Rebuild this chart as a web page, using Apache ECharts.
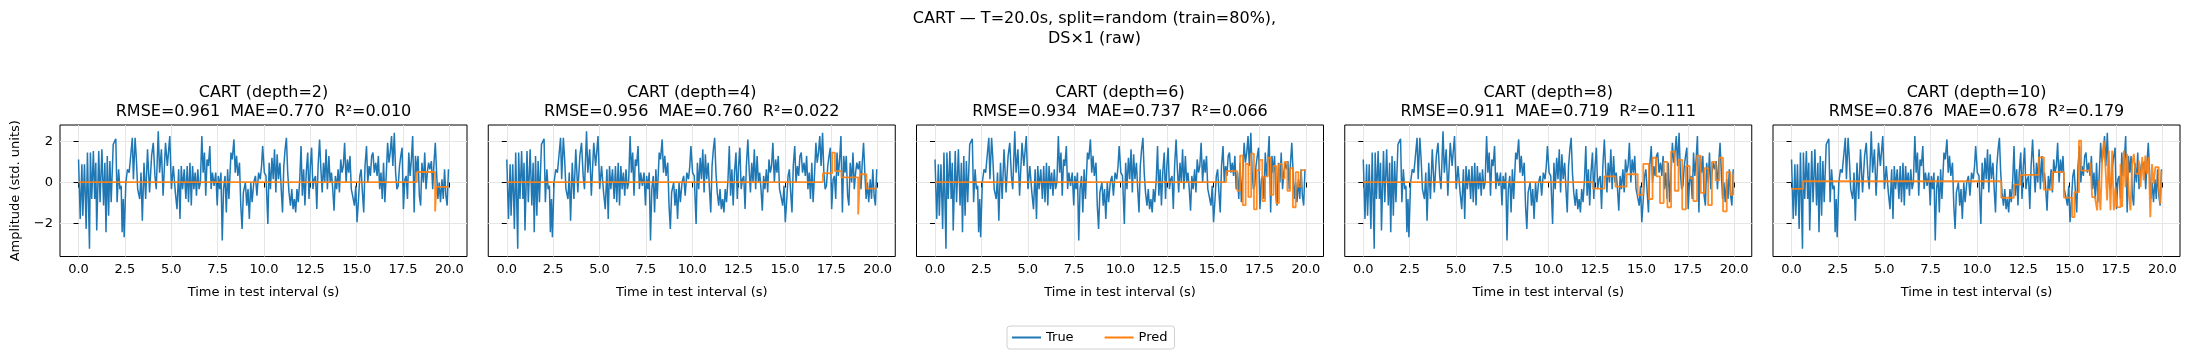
<!DOCTYPE html>
<html>
<head>
<meta charset="utf-8">
<script src="https://cdn.jsdelivr.net/npm/echarts@6/dist/echarts.min.js"></script>
<style>
    html, body { margin: 0; padding: 0; background: #fff; }
    #main { width: 2189px; height: 361px; }
</style>
</head>
<body>
<div id="main"></div>
<script>
var trueTime = [0.00, 0.09, 0.18, 0.23, 0.32, 0.41, 0.48, 0.59, 0.64, 0.71, 0.80, 0.87, 0.93, 0.98, 1.09, 1.16, 1.26, 1.35, 1.42, 1.48,
    1.55, 1.62, 1.69, 1.76, 1.87, 2.01, 2.08, 2.16, 2.23, 2.30, 2.35, 2.41, 2.46, 2.55, 2.64, 2.73, 2.82, 2.90, 2.96, 3.05,
    3.12, 3.19, 3.30, 3.37, 3.44, 3.53, 3.62, 3.72, 3.83, 3.94, 4.03, 4.12, 4.19, 4.30, 4.37, 4.47, 4.56, 4.69, 4.79, 4.92,
    5.01, 5.11, 5.22, 5.31, 5.40, 5.47, 5.54, 5.61, 5.70, 5.79, 5.86, 5.93, 6.01, 6.08, 6.15, 6.22, 6.29, 6.36, 6.43, 6.50,
    6.57, 6.65, 6.72, 6.79, 6.86, 6.93, 7.00, 7.08, 7.15, 7.22, 7.31, 7.40, 7.48, 7.54, 7.61, 7.68, 7.75, 7.82, 7.90, 7.97,
    8.04, 8.11, 8.22, 8.29, 8.38, 8.45, 8.52, 8.59, 8.68, 8.75, 8.82, 8.89, 9.00, 9.07, 9.14, 9.21, 9.29, 9.36, 9.45, 9.54,
    9.62, 9.71, 9.80, 9.87, 9.93, 10.02, 10.11, 10.21, 10.28, 10.35, 10.43, 10.50, 10.57, 10.64, 10.71, 10.78, 10.86, 10.93, 11.00, 11.07,
    11.14, 11.21, 11.28, 11.35, 11.43, 11.50, 11.57, 11.64, 11.71, 11.78, 11.85, 11.93, 12.00, 12.07, 12.14, 12.21, 12.28, 12.36, 12.43, 12.50,
    12.57, 12.64, 12.71, 12.78, 12.85, 12.92, 13.00, 13.07, 13.14, 13.21, 13.28, 13.35, 13.42, 13.50, 13.57, 13.64, 13.71, 13.78, 13.85, 13.92,
    14.00, 14.07, 14.14, 14.21, 14.28, 14.35, 14.43, 14.50, 14.57, 14.64, 14.71, 14.78, 14.88, 14.95, 15.02, 15.10, 15.17, 15.24, 15.31, 15.38,
    15.45, 15.53, 15.60, 15.67, 15.74, 15.81, 15.88, 15.95, 16.03, 16.10, 16.17, 16.24, 16.31, 16.38, 16.45, 16.52, 16.60, 16.67, 16.74, 16.81,
    16.88, 16.95, 17.03, 17.10, 17.17, 17.24, 17.31, 17.38, 17.45, 17.52, 17.60, 17.67, 17.74, 17.81, 17.88, 17.95, 18.02, 18.10, 18.17, 18.24,
    18.31, 18.38, 18.45, 18.52, 18.60, 18.67, 18.74, 18.81, 18.88, 18.95, 19.03, 19.10, 19.17, 19.24, 19.31, 19.38, 19.45, 19.52, 19.60, 19.67,
    19.74, 19.81, 19.88, 19.95];
var trueVal = [1.12, -1.77, 0.88, -1.61, 0.88, -2.25, 1.45, -3.21, 1.45, -0.80, 1.53, -0.80, 0.96, -2.33, 1.53, -0.96, 1.61, -1.12, 0.96, -2.41,
    1.29, -1.61, 1.04, -0.96, 1.85, 2.12, -0.96, 0.64, -0.32, -0.16, -2.41, -0.80, -2.65, 0.00, 0.64, 0.48, 1.37, 2.17, 0.16, 2.17,
    1.12, -0.32, -0.80, 0.48, -1.85, 0.96, -0.80, 1.61, -0.48, 1.29, 1.93, 0.32, -0.32, 2.49, 0.48, 1.61, -0.64, 1.93, 0.80, 2.25,
    -0.32, 0.80, -0.48, -1.29, 0.64, -1.77, 0.80, -0.32, 0.64, -0.80, 0.80, -0.96, 0.96, -1.12, 0.80, -0.32, 0.48, -0.64, 0.64, -0.32,
    0.00, 2.25, 0.48, 1.45, -0.64, 1.12, 0.80, 1.77, -0.32, 0.48, -0.16, 0.48, -1.12, 0.32, -0.32, 0.48, -2.81, -0.32, 0.32, -1.45,
    0.64, -0.80, 1.45, 1.12, 2.09, 0.48, 1.29, 0.32, 0.96, -1.12, -2.25, -0.48, 0.00, -1.12, -0.32, -1.77, 0.00, -0.96, 0.00, 0.32,
    -0.64, 0.48, 0.16, 0.80, 1.77, 0.48, 0.32, -2.01, 0.96, -0.32, 1.20, 0.16, 1.61, -0.48, 1.37, 0.16, 0.96, -0.32, -1.45, 0.80,
    1.61, 2.17, 0.48, -0.48, -1.12, -0.32, -1.29, -0.80, -1.45, -0.32, -0.96, 0.16, 1.77, -0.64, 0.64, -1.12, 0.48, 1.45, -0.80, 0.80,
    1.69, -0.32, 0.16, 0.32, -1.29, 0.80, 2.09, 0.64, -0.48, 0.96, 0.00, 1.61, -0.32, 1.29, 0.00, 0.48, -0.32, -1.37, 0.32, -0.32,
    0.64, -0.48, 1.12, 0.48, 0.80, 1.93, 0.00, 1.12, 0.48, 1.29, -0.32, -0.64, -1.12, -0.16, -1.93, -0.80, 0.32, 0.64, -0.48, -1.45,
    0.80, 1.77, 0.00, 0.80, 0.32, 1.29, 1.45, 0.48, 0.96, 0.32, 1.29, -0.32, 0.48, -0.80, 0.96, -0.96, 0.48, 1.93, 0.96, 1.45,
    2.25, 0.80, 2.41, 0.48, -0.32, -0.16, 0.80, 1.29, 1.69, -1.29, 0.16, 0.32, -0.80, 1.45, 0.32, 1.12, 2.25, -1.45, 1.29, 0.48,
    1.29, -0.64, -1.12, 0.96, 0.00, 1.45, -0.32, 0.48, 0.96, 0.64, 1.04, -0.32, 0.96, 1.93, 0.48, -0.80, 0.00, -0.96, 0.16, -0.80,
    0.64, -0.64, -1.12, 0.64];

// CART predictions, one breakpoint per level change (held until the next time)
var depths = [2, 4, 6, 8, 10];
var predTimeD2 = [0, 18.25, 19.23, 19.30, 19.95];
var predValD2 = [0.02, 0.51, -1.41, -0.21, -0.21];
var predTimeD4 = [0, 17.05, 17.55, 17.70, 18.05, 18.95, 19.05, 19.40, 19.95];
var predValD4 = [0.02, 0.45, 1.45, 0.55, 0.25, -1.55, 0.40, -0.30, -0.30];
var predTimeD6 = [0, 15.70, 16.30, 16.45, 16.60, 16.75, 16.90, 17.05, 17.20, 17.35, 17.50, 17.65, 17.80, 17.95, 18.10, 18.25, 18.40,
    18.55, 18.70, 18.85, 19.00, 19.15, 19.30, 19.45, 19.60, 19.75, 19.95];
var predValD6 = [0.02, 0.55, -0.40, 1.30, -1.10, 0.90, -0.70, 1.40, -1.30, 0.60, 1.10, -0.90, 0.30, 1.20, -0.60, 0.80, -1.00,
    0.90, 0.20, 1.00, -0.40, 0.70, -1.20, 0.50, -0.20, 0.60, 0.60];
var predTimeD8 = [0, 12.40, 13.00, 13.60, 14.20, 14.80, 15.10, 15.40, 15.60, 15.80, 16.00, 16.20, 16.40, 16.60, 16.80, 17.00, 17.20,
    17.40, 17.60, 17.80, 18.00, 18.20, 18.40, 18.60, 18.80, 19.00, 19.20, 19.40, 19.60, 19.80, 19.95];
var predValD8 = [0.02, -0.30, 0.30, -0.20, 0.40, -0.60, 0.90, -0.80, 1.20, 0.30, -1.00, 1.00, -1.20, 1.50, -0.40, 1.10, -1.30,
    0.80, 0.20, -0.90, 1.30, -0.50, 0.70, -1.10, 1.00, 0.10, 1.20, -1.40, 0.50, -0.60, 0.40];
var predTimeD10 = [0, 0.63, 11.31, 11.99, 12.35, 13.34, 13.61, 14.06, 14.69, 15.13, 15.26, 15.50, 15.62, 16.12, 16.21, 16.39, 16.48,
    16.57, 16.66, 16.75, 16.84, 16.93, 17.02, 17.11, 17.20, 17.29, 17.38, 17.47, 17.56, 17.74, 17.83, 17.92, 18.01, 18.10, 18.19,
    18.28, 18.37, 18.46, 18.55, 18.73, 18.82, 18.91, 18.99, 19.08, 19.17, 19.26, 19.35, 19.44, 19.53, 19.62, 19.80, 19.89, 19.95];
var predValD10 = [-0.31, 0.06, -0.74, -0.10, 0.37, 1.22, -0.35, 0.50, -0.73, -1.68, -0.47, 2.03, 0.58, 0.98, -0.71, -0.87, -1.35,
    0.10, -1.35, 1.06, 2.03, 0.74, -0.87, 1.55, -1.35, 1.55, -1.35, -0.23, -1.19, 0.90, -1.19, 1.55, -0.23, 1.39, -0.55,
    -1.35, 0.90, 1.39, 0.42, 1.06, -0.23, 1.23, 0.10, 1.31, 0.42, 1.23, -1.68, 0.90, -0.06, 0.74, -0.23, -1.03, 0.58];
var metrics = [
    { rmse: "0.961", mae: "0.770", r2: "0.010" },
    { rmse: "0.956", mae: "0.760", r2: "0.022" },
    { rmse: "0.934", mae: "0.737", r2: "0.066" },
    { rmse: "0.911", mae: "0.719", r2: "0.111" },
    { rmse: "0.876", mae: "0.678", r2: "0.179" }
];
var xTicks = [0, 2.5, 5, 7.5, 10, 12.5, 15, 17.5, 20];
var yTicks = [-2, 0, 2];

var FONT = "DejaVu Sans";
var predTimes = [predTimeD2, predTimeD4, predTimeD6, predTimeD8, predTimeD10];
var predVals = [predValD2, predValD4, predValD6, predValD8, predValD10];

function zipPairs(xs, ys) {
    var out = [];
    for (var i = 0; i < xs.length; i++) {
        out.push([xs[i], ys[i]]);
    }
    return out;
}

var Layout = {
    left: 60, step: 428.25, width: 407, top: 125, height: 131.5
};

var ChartBuilder = function () {
    var o = new Object();
    o.grids = [];
    o.xAxes = [];
    o.yAxes = [];
    o.series = [];
    o.titles = [];
    o.build = function () {
        o.titles.push({
            text: "CART \u2014 T=20.0s, split=random (train=80%),\nDS\u00d71 (raw)",
            left: 1094.5, top: 9, textAlign: "center", padding: 0,
            textStyle: { fontFamily: FONT, fontSize: 16, fontWeight: "normal", color: "#000", lineHeight: 20 }
        });
        for (var i = 0; i < depths.length; i++) {
            var left = Layout.left + i * Layout.step;
            o.grids.push({
                left: left, top: Layout.top, width: Layout.width, height: Layout.height,
                show: true, borderColor: "#000", borderWidth: 1, backgroundColor: "transparent"
            });
            o.titles.push({
                text: "CART (depth=" + depths[i] + ")\nRMSE=" + metrics[i].rmse + "  MAE=" + metrics[i].mae + "  R\u00b2=" + metrics[i].r2,
                left: left + Layout.width / 2, top: 83, textAlign: "center", padding: 0,
                textStyle: { fontFamily: FONT, fontSize: 16, fontWeight: "normal", color: "#000", lineHeight: 19 }
            });
            o.xAxes.push({
                type: "value", gridIndex: i, min: -1.0, max: 20.95,
                name: "Time in test interval (s)", nameLocation: "middle", nameGap: 30,
                nameTextStyle: { fontFamily: FONT, fontSize: 13, color: "#000" },
                axisLine: { show: false },
                axisTick: { show: true, inside: false, length: 5, customValues: xTicks, lineStyle: { color: "#000", width: 1 } },
                axisLabel: {
                    customValues: xTicks, margin: 7, fontFamily: FONT, fontSize: 13, color: "#000",
                    formatter: function (v) { return v.toFixed(1); }
                },
                splitLine: { show: true, lineStyle: { color: "#e6e6e6", width: 1 } }
            });
            o.yAxes.push({
                type: "value", gridIndex: i, min: -3.59, max: 2.79,
                name: i === 0 ? "Amplitude (std. units)" : "", nameLocation: "middle", nameGap: 38,
                nameTextStyle: { fontFamily: FONT, fontSize: 13, color: "#000" },
                axisLine: { show: false },
                axisTick: { show: true, inside: false, length: 5, customValues: yTicks, lineStyle: { color: "#000", width: 1 } },
                axisLabel: {
                    show: i === 0, customValues: yTicks, margin: 7, fontFamily: FONT, fontSize: 13, color: "#000",
                    formatter: function (v) { return v < 0 ? "\u2212" + Math.abs(v) : String(v); }
                },
                splitLine: { show: true, lineStyle: { color: "#e6e6e6", width: 1 } }
            });
            o.series.push({
                name: "True", type: "line", xAxisIndex: i, yAxisIndex: i,
                data: zipPairs(trueTime, trueVal), showSymbol: false, symbol: "none",
                lineStyle: { color: "#1f77b4", width: 1.5 }, itemStyle: { color: "#1f77b4" },
                animation: false, z: 2
            });
            o.series.push({
                name: "Pred", type: "line", xAxisIndex: i, yAxisIndex: i, step: "end",
                data: zipPairs(predTimes[i], predVals[i]), showSymbol: false, symbol: "none",
                lineStyle: { color: "#ff7f0e", width: 1.8, opacity: 0.9 }, itemStyle: { color: "#ff7f0e" },
                animation: false, z: 3
            });
        }
    };
    o.option = function () {
        return {
            animation: false,
            backgroundColor: "#fff",
            title: o.titles,
            grid: o.grids,
            xAxis: o.xAxes,
            yAxis: o.yAxes,
            series: o.series,
            legend: {
                data: ["True", "Pred"], left: 1007, top: 326,
                padding: [5, 7, 5, 5], itemGap: 31, itemWidth: 29, itemHeight: 2, icon: "rect",
                borderColor: "#d0d0d0", borderWidth: 1, borderRadius: 3,
                textStyle: { fontFamily: FONT, fontSize: 13, color: "#000" }
            }
        };
    };
    return o;
};

var oBuilder = new ChartBuilder();
oBuilder.build();
var myChart = echarts.init(document.getElementById("main"), null, { renderer: "canvas" });
myChart.setOption(oBuilder.option());
</script>
</body>
</html>
